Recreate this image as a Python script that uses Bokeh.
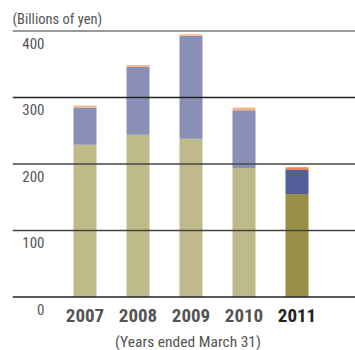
from bokeh.plotting import figure
from bokeh.models import ColumnDataSource, Range1d, Span
from bokeh.core.properties import value
from bokeh.embed import file_html
from bokeh.resources import INLINE

# ---- data ----
years = ["2007", "2008", "2009", "2010", "2011"]
base_values = [229, 244, 238, 194, 155]
middle_values = [56, 102, 155, 87, 36]
top_values = [3, 3, 2, 4, 4]
y_ticks = [0, 100, 200, 300, 400]
y_tick_labels = ["0", "100", "200", "300", "400"]
unit_label = "(Billions of yen)"
x_title = "(Years ended March 31)"

# ---- styles ----
base_colors = ["#BFBA89", "#BFBA89", "#BFBA89", "#BFBA89", "#998F47"]
middle_colors = ["#8A8FB7", "#8A8FB7", "#8A8FB7", "#8A8FB7", "#525F9A"]
top_colors = ["#F8B98A", "#F8B98A", "#F8B98A", "#F8B98A", "#EE8A48"]
year_label_colors = ["#555555", "#555555", "#555555", "#555555", "#222222"]
FONT = "Roboto Condensed"

W, H = 355, 350
left_px = 12
spacing = 53.0       # px per category
first_center = 84.5  # px
y0_px = 296.5
ppu = 0.665          # px per unit

x_start = (left_px - first_center) / spacing
x_end = (W - first_center) / spacing
y_end = y0_px / ppu
y_start = -(H - y0_px) / ppu

idx = list(range(len(years)))
b1 = [0] * len(years)
t1 = base_values
t2 = [a + b for a, b in zip(base_values, middle_values)]
t3 = [a + b for a, b in zip(t2, top_values)]

src = ColumnDataSource(dict(x=idx, b1=b1, t1=t1, t2=t2, t3=t3,
                            c1=base_colors, c2=middle_colors, c3=top_colors,
                            year=years, yc=year_label_colors, zero=[0] * len(years)))

p = figure(width=W, height=H, output_backend="svg", toolbar_location=None,
           x_range=Range1d(x_start, x_end), y_range=Range1d(y_start, y_end),
           x_axis_type=None, y_axis_type=None,
           min_border_left=left_px, min_border_right=0, min_border_top=0, min_border_bottom=0)
p.outline_line_color = None
p.grid.visible = False
p.background_fill_color = "white"

bw = 23 / spacing
p.vbar(x="x", bottom="b1", top="t1", width=bw, fill_color="c1", line_color=None, source=src)
p.vbar(x="x", bottom="t1", top="t2", width=bw, fill_color="c2", line_color=None, source=src)
p.vbar(x="x", bottom="t2", top="t3", width=bw, fill_color="c3", line_color=None, source=src)

# gridlines
for t in y_ticks:
    if t == 400:
        p.add_layout(Span(location=t, dimension="width", line_color="#999999", line_width=2))
    elif t in (100, 200):
        p.add_layout(Span(location=t, dimension="width", line_color="#444444", line_width=1.5))
    else:
        p.add_layout(Span(location=t, dimension="width", line_color="#222222", line_width=1.5))

# y tick labels (below each line, right aligned)
ysrc = ColumnDataSource(dict(x=[x_start] * len(y_ticks), y=y_ticks, t=y_tick_labels))
p.text(x="x", y="y", text="t", source=ysrc, x_offset=32, y_offset=12,
       text_align="right", text_baseline="middle", text_font=value(FONT),
       text_font_size="15px", text_color="#555555")

# year labels
p.text(x="x", y="zero", text="year", source=src, y_offset=18,
       text_align="center", text_baseline="middle", text_font=value(FONT),
       text_font_size="19px", text_font_style="bold", text_color="yc")

# unit label
p.text(x=[x_start], y=[y_end], text=[unit_label], x_offset=0, y_offset=19,
       text_align="left", text_baseline="middle", text_font=value(FONT),
       text_font_size="14.5px", text_color="#555555")

# x title
p.text(x=[(x_start + x_end) / 2], y=[y_start], text=[x_title], x_offset=4, y_offset=-9,
       text_align="center", text_baseline="middle", text_font=value(FONT),
       text_font_size="15.5px", text_color="#555555")

open("out.html", "w").write(file_html(p, INLINE))
